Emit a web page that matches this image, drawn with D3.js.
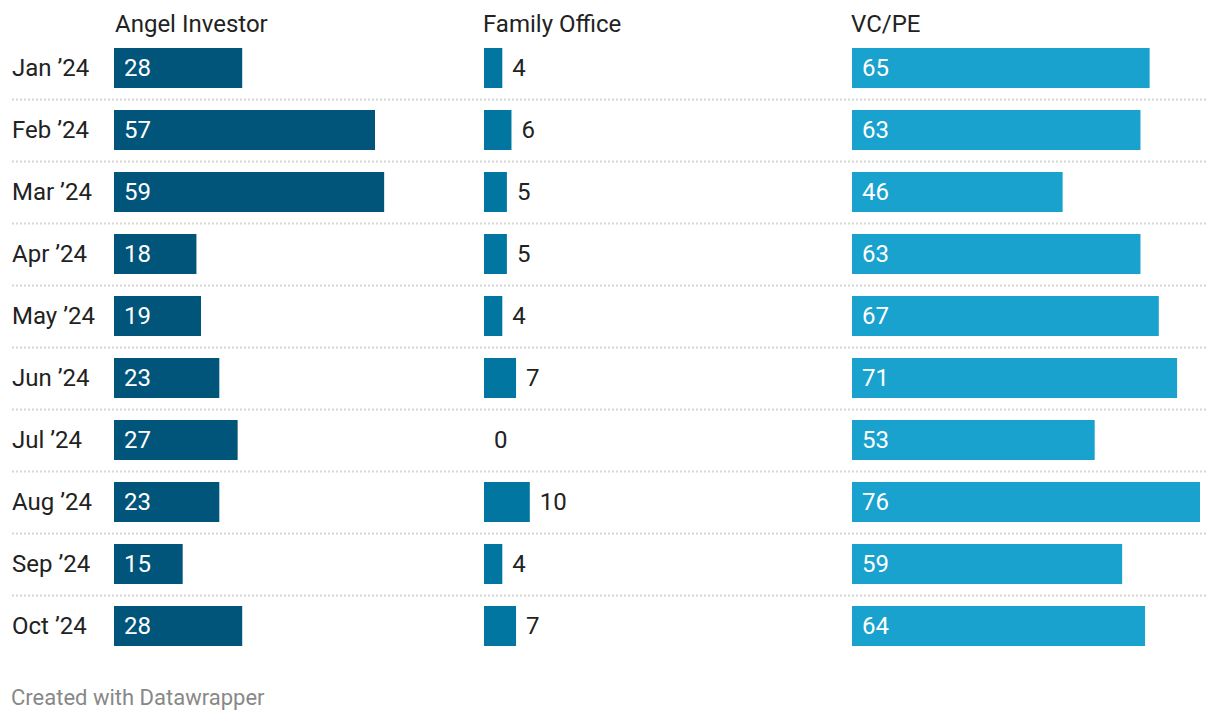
<!DOCTYPE html>
<html>
<head>
<meta charset="utf-8">
<script src="https://cdn.jsdelivr.net/npm/d3@7"></script>
<style>
  body { margin: 0; background: #fff; }
  svg { display: block; font-family: Roboto, "Noto Sans", sans-serif; }
</style>
</head>
<body>
<svg id="chart" width="1220" height="722"></svg>
<script>
const months = ["Jan ’24","Feb ’24","Mar ’24","Apr ’24","May ’24","Jun ’24","Jul ’24","Aug ’24","Sep ’24","Oct ’24"];
const seriesNames = ["Angel Investor","Family Office","VC/PE"];
const angelInvestor = [28,57,59,18,19,23,27,23,15,28];
const familyOffice = [4,6,5,5,4,7,0,10,4,7];
const vcpe = [65,63,46,63,67,71,53,76,59,64];
const seriesValues = [angelInvestor, familyOffice, vcpe];
const colors = ["#01547a","#0076a1","#19a2ce"];

const svg = d3.select("#chart");
const colX = [114, 484, 852];
const colW = 348;
const x = d3.scaleLinear().domain([0, 76]).range([0, colW]);
const y = d3.scaleBand().domain(months).range([37, 657])
  .paddingInner(22/62).paddingOuter(11/62);

// separators
months.slice(0, -1).forEach((m, i) => {
  const sy = y(m) + y.bandwidth() + 11.5;
  svg.append("line")
    .attr("x1", 12).attr("x2", 1208)
    .attr("y1", sy).attr("y2", sy)
    .attr("stroke", "#d6d6d6").attr("stroke-width", 2)
    .attr("stroke-dasharray", "2,2");
});

// row labels
svg.selectAll("text.row").data(months).enter().append("text")
  .attr("class", "row")
  .attr("x", 12)
  .attr("y", d => y(d) + y.bandwidth() / 2)
  .attr("dy", "0.35em")
  .attr("font-size", 24)
  .attr("fill", "#222")
  .text(d => d);

seriesNames.forEach((name, si) => {
  const g = svg.append("g").attr("transform", `translate(${colX[si]},0)`);
  g.append("text").attr("x", si === 0 ? 1 : -1).attr("y", 32)
    .attr("font-size", 24).attr("fill", "#222").text(name);
  const vals = seriesValues[si];
  g.selectAll("rect").data(vals).enter().append("rect")
    .attr("x", 0)
    .attr("y", (d, i) => y(months[i]))
    .attr("width", d => x(d))
    .attr("height", y.bandwidth())
    .attr("fill", colors[si]);
  g.selectAll("text.val").data(vals).enter().append("text")
    .attr("class", "val")
    .attr("x", d => (x(d) > 60 ? 10 : x(d) + 10))
    .attr("y", (d, i) => y(months[i]) + y.bandwidth() / 2)
    .attr("dy", "0.35em")
    .attr("font-size", 24)
    .attr("fill", d => (x(d) > 60 ? "#ffffff" : "#222"))
    .text(d => d);
});

svg.append("text").attr("x", 11).attr("y", 705)
  .attr("font-size", 22).attr("fill", "#888").text("Created with Datawrapper");
</script>
</body>
</html>
